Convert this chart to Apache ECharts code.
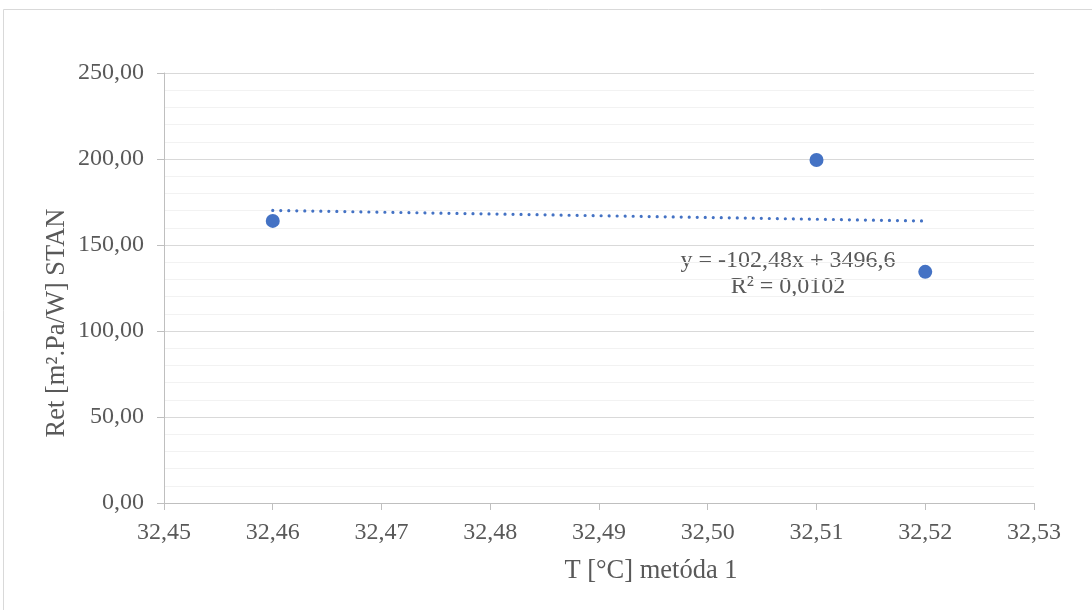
<!DOCTYPE html>
<html>
<head>
<meta charset="utf-8">
<script src="https://cdn.jsdelivr.net/npm/echarts@6/dist/echarts.min.js"></script>
<style>
  html, body { margin: 0; padding: 0; background: #fff; }
  #chart { width: 1092px; height: 610px; }
</style>
</head>
<body>
<div id="chart"></div>
<script>
// Measured points: temperature vs. resistance
const temperatures = [32.46, 32.51, 32.52];
const resistances = [164.0, 199.4, 134.4];

// Linear trend line coefficients (y = slope * x + intercept)
const trendSlope = -102.48;
const trendIntercept = 3496.6;
const trendR2 = 0.0102;
const trendRange = [32.46, 32.52];

const xTitle = 'T [°C] metóda 1';
const yTitle = 'Ret [m².Pa/W] STAN';

const fmt = (v, d) => v.toFixed(d).replace('.', ',');

const scatterData = temperatures.map((t, i) => [t, resistances[i]]);
const trendData = trendRange.map(x => [x, trendSlope * x + trendIntercept]);

const FONT = '"Liberation Serif", "Times New Roman", serif';
const GREY = '#595959';

const chart = echarts.init(document.getElementById('chart'), null, { renderer: 'canvas' });
chart.setOption({
  animation: false,
  backgroundColor: '#ffffff',
  grid: { left: 164, right: 58, top: 73, bottom: 107 },
  xAxis: {
    type: 'value',
    min: 32.45,
    max: 32.53,
    interval: 0.01,
    axisLine: { show: true, lineStyle: { color: '#bfbfbf', width: 1 } },
    axisTick: { show: true, length: 7, lineStyle: { color: '#bfbfbf' } },
    splitLine: { show: false },
    axisLabel: {
      fontFamily: FONT, fontSize: 24, color: GREY, margin: 18,
      formatter: v => fmt(v, 2)
    }
  },
  yAxis: {
    type: 'value',
    min: 0,
    max: 250,
    interval: 50,
    axisLine: { show: true, lineStyle: { color: '#bfbfbf', width: 1 } },
    axisTick: { show: true, length: 7, lineStyle: { color: '#bfbfbf' } },
    splitLine: { show: true, lineStyle: { color: '#d9d9d9', width: 1 } },
    minorTick: { show: false, splitNumber: 5 },
    minorSplitLine: { show: true, lineStyle: { color: '#f2f2f2', width: 1 } },
    axisLabel: {
      fontFamily: FONT, fontSize: 24, color: GREY, margin: 20,
      formatter: v => fmt(v, 2)
    }
  },
  series: [
    {
      type: 'line',
      data: trendData,
      symbol: 'none',
      lineStyle: { color: '#4472C4', width: 3.2, type: [0.01, 8], cap: 'round' },
      silent: true,
      z: 2
    },
    {
      type: 'scatter',
      data: scatterData,
      symbol: 'circle',
      symbolSize: 14,
      itemStyle: { color: '#4472C4', opacity: 1 },
      z: 3
    }
  ],
  graphic: [
    {
      type: 'rect',
      shape: { x: 3.5, y: 9.5, width: 1200, height: 700 },
      style: { fill: 'none', stroke: '#d9d9d9', lineWidth: 1 },
      silent: true
    },
    {
      type: 'text',
      x: 651, y: 571,
      style: {
        text: xTitle, font: '26.5px ' + FONT, fill: GREY,
        textAlign: 'center', textVerticalAlign: 'middle'
      }
    },
    {
      type: 'text',
      x: 57, y: 323,
      rotation: Math.PI / 2,
      style: {
        text: yTitle, font: '26.5px ' + FONT, fill: GREY,
        textAlign: 'center', textVerticalAlign: 'middle'
      }
    },
    {
      type: 'text',
      x: 788, y: 261,
      style: {
        text: 'y = ' + fmt(trendSlope, 2) + 'x + ' + fmt(trendIntercept, 1),
        font: '24px ' + FONT, fill: GREY,
        textAlign: 'center', textVerticalAlign: 'middle'
      }
    },
    {
      type: 'text',
      x: 788, y: 287,
      style: {
        text: 'R² = ' + fmt(trendR2, 4),
        font: '24px ' + FONT, fill: GREY,
        textAlign: 'center', textVerticalAlign: 'middle'
      }
    }
  ]
});
</script>
</body>
</html>
